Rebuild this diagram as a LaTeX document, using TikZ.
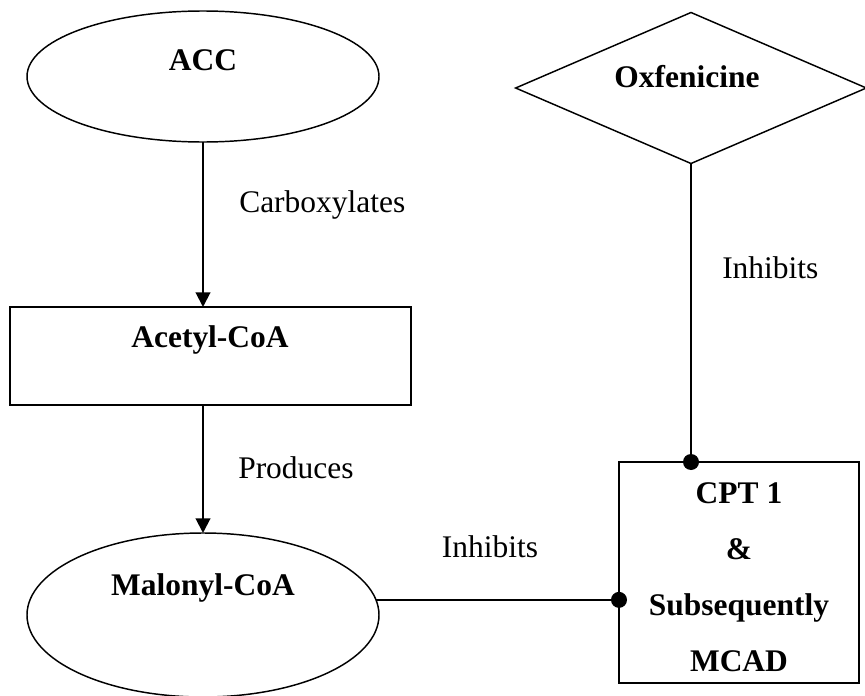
\documentclass[tikz,border=0pt]{standalone}
\usepackage{fontspec}
\setmainfont{Liberation Serif}
\usetikzlibrary{shapes.geometric,arrows.meta}
\begin{document}
\begin{tikzpicture}[x=0.75pt,y=-0.75pt,
  shapeline/.style={draw=black,line width=1.1pt,inner sep=0pt,outer sep=0pt},
  oval/.style={shapeline,ellipse},
  boxnode/.style={shapeline,rectangle},
  rhomb/.style={shapeline,diamond},
  title/.style={font=\fontsize{23.6}{42}\selectfont\bfseries,inner sep=0pt},
  caption/.style={font=\fontsize{23.6}{28}\selectfont,inner sep=0pt},
  conn/.style={line width=1.5pt},
  flow/.style={conn,-{Triangle[length=11pt,width=11pt]}},
  dot/.style={circle,fill=black,inner sep=0pt,minimum size=12pt}]
\useasboundingbox (0,0) rectangle (865,696);

% shapes
\node[oval, minimum width=264pt, minimum height=98.25pt] (acc) at (203,76.5) {};
\node[title] (acclbl) at (203,60) {ACC};

\node[boxnode, minimum width=300.75pt, minimum height=73.5pt] (acetyl) at (210.5,356) {};
\node[title] (acetyllbl) at (210,340) {Acetyl-CoA};

\node[oval, minimum width=264pt, minimum height=123pt] (mal) at (203,615) {};
\node[title] (mallbl) at (203,588) {Malonyl-CoA};

\node[rhomb, minimum width=263pt, minimum height=113.25pt] (oxf) at (691,88) {};
\node[title] (oxflbl) at (687,77) {Oxfenicine};

\node[boxnode, minimum width=180pt, minimum height=165.75pt] (cpt) at (739,572.5) {};
\node[title, align=center] (cptlbl) at (739,577) {CPT 1\\ \&\\ Subsequently\\ MCAD};

% connectors
\draw[flow] (acc.south) -- (acc.south |- acetyl.north);
\node[caption, anchor=west] (carb) at (239,205) {Carboxylates};

\draw[flow] (mal.north |- acetyl.south) -- (mal.north);
\node[caption, anchor=west] (prod) at (238,468) {Produces};

\coordinate (cpttop) at (oxf.south |- cpt.north);
\draw[conn] (oxf.south) -- (cpttop);
\node[dot] (dtop) at (cpttop) {};
\node[caption, anchor=west] (inhA) at (722,268) {Inhibits};

\coordinate (cptleft) at (mal.5 -| cpt.west);
\draw[conn] (mal.5) -- (cptleft);
\node[dot] (dleft) at (cptleft) {};
\node[caption] (inhB) at (490,547) {Inhibits};
\end{tikzpicture}
\end{document}
